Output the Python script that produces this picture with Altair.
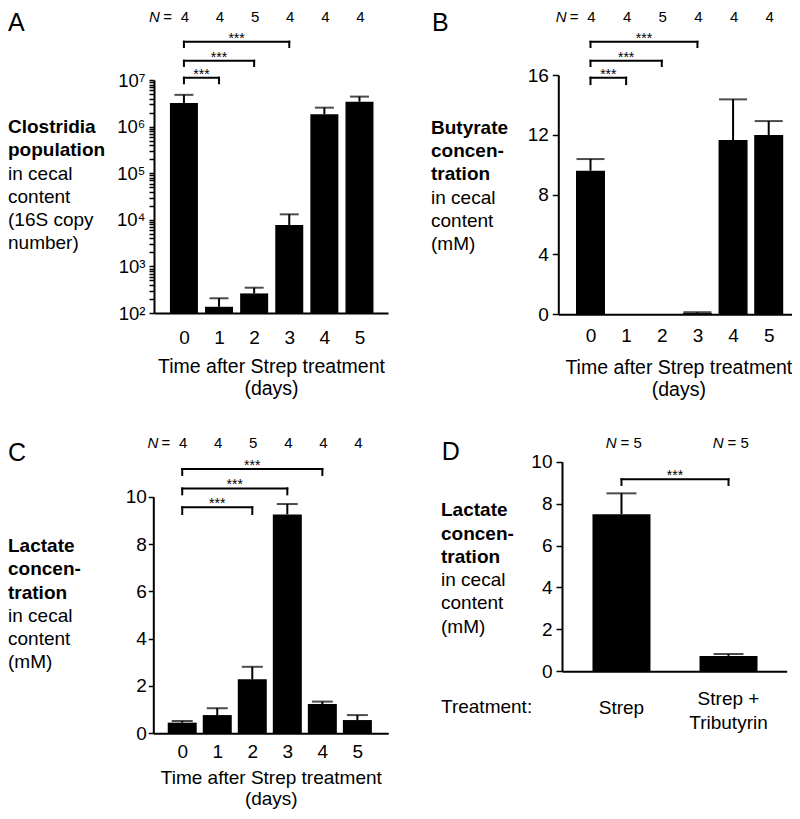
import json
import altair as alt
import pandas as pd

# ---------------- data ----------------
DAYS = [0, 1, 2, 3, 4, 5]
N_TIME = ["4", "4", "5", "4", "4", "4"]

CLOS_MEAN = [3.2e6, 136, 263, 7750, 1.84e6, 3.42e6]
CLOS_UPPER = [4.8e6, 207, 349, 13100, 2.55e6, 4.4e6]

BUTY_MEAN = [9.6, 0, 0, 0.08, 11.65, 11.99]
BUTY_UPPER = [10.38, 0, 0, 0.14, 14.37, 12.92]

LACT_MEAN = [0.45, 0.77, 2.28, 9.25, 1.24, 0.56]
LACT_UPPER = [0.52, 1.06, 2.81, 9.69, 1.34, 0.77]

TREAT_POS = [0, 1]
TREAT_LABELS = [["Strep"], ["Strep +", "Tributyrin"]]
N_TREAT = ["5", "5"]
TRIB_MEAN = [7.49, 0.73]
TRIB_UPPER = [8.49, 0.82]

# significance brackets (compared groups, bracket top and foot in data units)
A_BR_FROM, A_BR_TO = [0, 0, 0], [1, 2, 3]
A_BR_TOP, A_BR_FOOT = [1.12e7, 2.59e7, 6.64e7], [8.5e6, 2.0e7, 5.1e7]
B_BR_FROM, B_BR_TO = [0, 0, 0], [1, 2, 3]
B_BR_TOP, B_BR_FOOT = [15.82, 16.95, 18.22], [15.39, 16.6, 17.87]
C_BR_FROM, C_BR_TO = [0, 0, 0], [2, 3, 4]
C_BR_TOP, C_BR_FOOT = [9.55, 10.35, 11.17], [9.27, 10.10, 10.92]
D_BR_FROM, D_BR_TO = [0], [1]
D_BR_TOP, D_BR_FOOT = [9.16], [8.89]
SIG = "***"

X_TITLE = ["Time after Strep treatment", "(days)"]
YT_A = (["Clostridia", "population"], ["in cecal", "content", "(16S copy", "number)"])
YT_B = (["Butyrate", "concen-", "tration"], ["in cecal", "content", "(mM)"])
YT_C = (["Lactate", "concen-", "tration"], ["in cecal", "content", "(mM)"])
YT_D = (["Lactate", "concen-", "tration"], ["in cecal", "content", "(mM)"])
TREATMENT_TITLE = "Treatment:"

LOG_TICKS = [k * 10 ** n for n in range(2, 7) for k in range(1, 10)] + [10 ** 7]
SUP = ["\u2070", "\u00b9", "\u00b2", "\u00b3", "\u2074", "\u2075", "\u2076", "\u2077", "\u2078", "\u2079"]

# ---------------- styling ----------------
FONT = "Liberation Sans"
BLACK = "#000000"
W, H = 784, 803
LH = 23.3
NFS = 15

one = pd.DataFrame({"k": [0]})


def text_block(lines, x, y, bold, size=19):
    return alt.Chart(one).mark_text(
        text=lines, align="left", baseline="alphabetic", font=FONT, fontSize=size,
        fontWeight="bold" if bold else "normal", lineHeight=LH, color=BLACK,
    ).encode(x=alt.value(x), y=alt.value(y))


def ytitle(lines, x, y):
    bold, normal = lines
    return [text_block(bold, x, y, True), text_block(normal, x, y + LH * len(bold), False)]


def letter(ch, x, y):
    return alt.Chart(one).mark_text(
        text=ch, align="left", baseline="top", font=FONT, fontSize=25, color=BLACK
    ).encode(x=alt.value(x), y=alt.value(y))


def y_axis(offset, values, tick, pad, size=19, expr=None):
    kw = dict(orient="left", offset=offset, values=values, tickSize=tick, tickWidth=1.5,
              tickColor=BLACK, domainWidth=2, domainColor=BLACK, labelFontSize=size,
              labelPadding=pad, labelColor=BLACK, labelFont=FONT, grid=False, title=None,
              labelOverlap=False, labelFlush=False)
    if expr:
        kw["labelExpr"] = expr
    return alt.Axis(**kw)


def time_axis(offset, lpad, tpad, tlh=22.5, tfs=19.5):
    return alt.Axis(orient="bottom", offset=offset, values=DAYS, ticks=False, grid=False,
                    domainWidth=2, domainColor=BLACK, labelFontSize=19, labelFont=FONT,
                    labelColor=BLACK, labelPadding=lpad, labelFlush=False, labelOverlap=False,
                    format="d", title=X_TITLE, titleFont=FONT, titleFontSize=tfs,
                    titleFontWeight="normal", titleColor=BLACK, titleLineHeight=tlh,
                    titlePadding=tpad)


def panel(pos, mean, upper, n, base, xs, ys, xax, yax, bar_size, cap_size,
          br_from, br_to, br_top, br_foot, n_level, mode, extras):
    X = lambda f: alt.X(f, type="quantitative", scale=xs, axis=xax)
    Y = lambda f: alt.Y(f, type="quantitative", scale=ys, axis=yax)
    df = pd.DataFrame({"pos": pos, "mean": mean, "upper": upper, "n": n})
    br = pd.DataFrame({"x1": br_from, "x2": br_to, "top": br_top, "foot": br_foot})

    bars = alt.Chart(df).mark_bar(size=bar_size, color=BLACK).encode(
        x=X("pos"), y=Y("mean"), y2=alt.datum(base))
    err = alt.Chart(df).transform_filter("datum.upper > datum.mean").mark_rule(
        color=BLACK, strokeWidth=2).encode(x=X("pos"), y=Y("mean"), y2="upper")
    cap = alt.Chart(df).transform_filter("datum.upper > datum.mean").mark_tick(
        orient="horizontal", size=cap_size, thickness=2, color=BLACK).encode(
        x=X("pos"), y=Y("upper"))

    h = alt.Chart(br).mark_rule(color=BLACK, strokeWidth=2, strokeCap="square").encode(
        x=X("x1"), x2="x2", y=Y("top"))
    feet = alt.Chart(br).transform_fold(["x1", "x2"], as_=["end", "xe"]).mark_rule(
        color=BLACK, strokeWidth=2, strokeCap="square").encode(
        x=X("xe"), y=Y("top"), y2="foot")
    stars = alt.Chart(br).transform_calculate(mid="(datum.x1 + datum.x2) / 2").mark_text(
        text=SIG, font=FONT, fontSize=14, dy=1, baseline="alphabetic", color=BLACK).encode(
        x=X("mid"), y=Y("top"))

    ny = alt.YDatum(n_level, type="quantitative", scale=ys, axis=yax)
    layers = [bars, err, cap, h, feet, stars]
    if mode == "time":
        nums = alt.Chart(df).mark_text(font=FONT, fontSize=NFS, baseline="middle", dx=1,
                                       color=BLACK).encode(x=X("pos"), y=ny, text="n")
        first = df.head(1)
        nn = alt.Chart(first).mark_text(text="N", font=FONT, fontSize=NFS, fontStyle="italic",
                                        align="right", dx=-24, baseline="middle",
                                        color=BLACK).encode(x=X("pos"), y=ny)
        eq = alt.Chart(first).mark_text(text="=", font=FONT, fontSize=NFS, align="right",
                                        dx=-12, baseline="middle", color=BLACK).encode(
            x=X("pos"), y=ny)
        layers += [nums, nn, eq]
    else:
        nn = alt.Chart(df).mark_text(text="N", font=FONT, fontSize=NFS, fontStyle="italic",
                                     align="right", dx=-5, baseline="middle",
                                     color=BLACK).encode(x=X("pos"), y=ny)
        eq = alt.Chart(df).transform_calculate(lbl="'= ' + datum.n").mark_text(
            font=FONT, fontSize=NFS, align="left", dx=-1, baseline="middle",
            color=BLACK).encode(x=X("pos"), y=ny, text="lbl:N")
        layers += [nn, eq]
    return alt.layer(*(layers + extras))


LOG_LABEL = ("abs(log(datum.value)/LN10 - round(log(datum.value)/LN10)) < 0.001 ? '10' + "
             + json.dumps(SUP, ensure_ascii=False)
             + "[round(log(datum.value)/LN10)] : ''")

# ---- Panel A ----
pA = panel(
    DAYS, CLOS_MEAN, CLOS_UPPER, N_TIME, 100,
    alt.Scale(domain=[-0.71, 5.67], range=[146, 380], nice=False, zero=False),
    alt.Scale(type="log", domain=[100, 1e7], range=[305, 72], nice=False),
    time_axis(305 - H, 15, 10),
    y_axis(-146, LOG_TICKS, 5, 4, size=18.5, expr=LOG_LABEL),
    28, 19, A_BR_FROM, A_BR_TO, A_BR_TOP, A_BR_FOOT, 2.25e8, "time",
    [letter("A", 0, 3)] + ytitle(YT_A, 0, 125),
)

# ---- Panel B ----
pB = panel(
    DAYS, BUTY_MEAN, BUTY_UPPER, N_TIME, 0,
    alt.Scale(domain=[-0.763, 5.69], range=[550.3, 790.3], nice=False, zero=False),
    alt.Scale(domain=[0, 16], range=[306.3, 67], nice=False, zero=False),
    time_axis(306.3 - H, 12, 13),
    y_axis(-550.3, [0, 4, 8, 12, 16], 6, 4),
    29, 28, B_BR_FROM, B_BR_TO, B_BR_TOP, B_BR_FOOT, 19.87, "time",
    [letter("B", 424, 3)] + ytitle(YT_B, 423, 125.6),
)

# ---- Panel C ----
pC = panel(
    DAYS, LACT_MEAN, LACT_UPPER, N_TIME, 0,
    alt.Scale(domain=[-0.683, 5.74], range=[145.3, 380.3], nice=False, zero=False),
    alt.Scale(domain=[0, 10], range=[725.3, 488.7], nice=False, zero=False),
    time_axis(725.3 - H, 9, 7, tlh=21.5, tfs=19),
    y_axis(-145.3, [0, 2, 4, 6, 8, 10], 5, 2),
    29, 21, C_BR_FROM, C_BR_TO, C_BR_TOP, C_BR_FOOT, 12.28, "time",
    [letter("C", 0, 433.3)] + ytitle(YT_C, 0, 544),
)

# ---- Panel D ----
d_xaxis = alt.Axis(orient="bottom", offset=663.2 - H, values=TREAT_POS, ticks=False,
                   labels=False, grid=False, domainWidth=2, domainColor=BLACK, title=None)
xsD = alt.Scale(domain=[-0.509, 1.497], range=[554, 778.7], nice=False, zero=False)
lab_df = pd.DataFrame({"pos": TREAT_POS, "lines": TREAT_LABELS,
                       "nlines": [len(t) for t in TREAT_LABELS]})
XD = lambda f: alt.X(f, type="quantitative", scale=xsD, axis=d_xaxis)
lab1 = alt.Chart(lab_df).transform_filter("datum.nlines == 1").mark_text(
    font=FONT, fontSize=19, baseline="alphabetic", lineHeight=LH, color=BLACK).encode(
    x=XD("pos"), y=alt.value(705.5), text="lines")
lab2 = alt.Chart(lab_df).transform_filter("datum.nlines > 1").mark_text(
    font=FONT, fontSize=19, baseline="alphabetic", lineHeight=LH, color=BLACK).encode(
    x=XD("pos"), y=alt.value(697.3), text="lines")

pD = panel(
    TREAT_POS, TRIB_MEAN, TRIB_UPPER, N_TREAT, 0,
    xsD,
    alt.Scale(domain=[0, 10], range=[663.2, 453.7], nice=False, zero=False),
    d_xaxis,
    y_axis(-554, [0, 2, 4, 6, 8, 10], 6, 4),
    58, 30, D_BR_FROM, D_BR_TO, D_BR_TOP, D_BR_FOOT, 10.88, "treat",
    [letter("D", 433.7, 432)] + ytitle(YT_D, 433, 508.3)
    + [text_block([TREATMENT_TITLE], 433, 705.3, False), lab1, lab2],
)

chart = alt.layer(pA, pB, pC, pD).resolve_scale(
    x="independent", y="independent"
).properties(
    width=W, height=H, autosize=alt.AutoSizeParams(type="none"), padding=0
).configure(font=FONT).configure_view(stroke=None)

chart.save("out.html", embed_options={"renderer": "svg", "actions": False})
